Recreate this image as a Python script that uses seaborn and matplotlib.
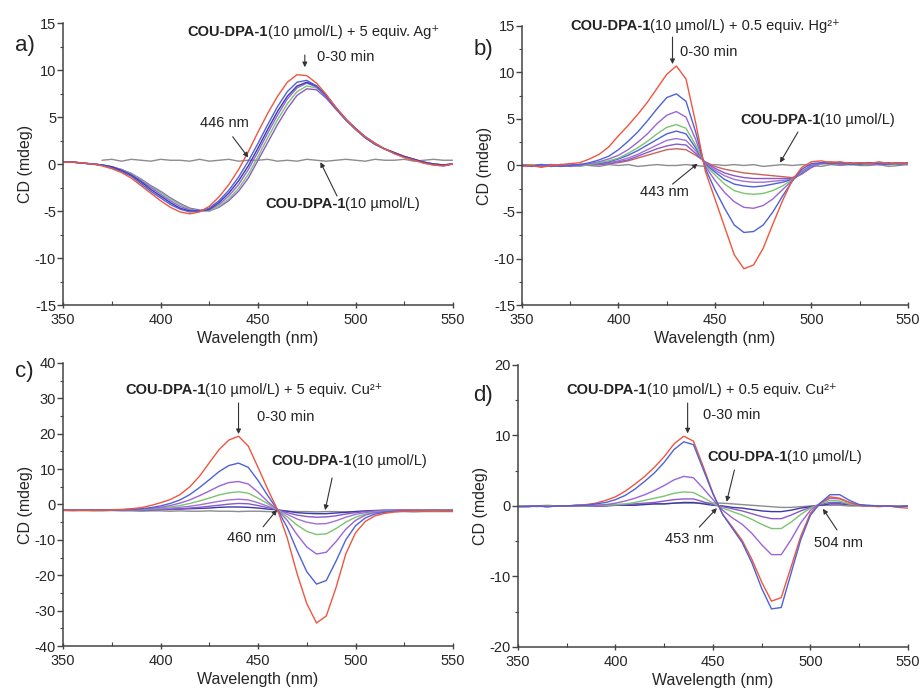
import numpy as np
import pandas as pd
import matplotlib
matplotlib.use("Agg")
import matplotlib.pyplot as plt
from matplotlib.ticker import AutoMinorLocator
import seaborn as sns

# wavelength grid (nm)
wl = list(range(350, 551, 5))

# ---- panel a: + 5 equiv. Ag+ ----
a_ref = [None, None, None, None,
         0.4, 0.5, 0.3, 0.5, 0.4, 0.3, 0.5, 0.4, 0.4, 0.3, 0.5, 0.3, 0.4, 0.5, 0.3, 0.4,
         0.4, 0.5, 0.3, 0.4, 0.3, 0.5, 0.4, 0.3, 0.4, 0.5, 0.4, 0.3, 0.5, 0.4, 0.4, 0.5,
         0.3, 0.4, 0.5, 0.4, 0.4]
a_violet = [0.2, 0.2, 0.1, 0.0, -0.1, -0.3, -0.6, -1.0, -1.6, -2.3, -2.9, -3.6, -4.2, -4.7, -4.9,
            -5.0, -4.6, -3.9, -2.9, -1.5, 0.4, 2.3, 4.2, 5.9, 7.3, 8.0, 7.9, 7.0, 5.8, 4.7,
            3.7, 2.8, 2.1, 1.6, 1.2, 0.8, 0.5, 0.2, 0.0, -0.1, 0.0]
a_green = [0.2, 0.2, 0.1, 0.0, -0.1, -0.3, -0.6, -1.0, -1.7, -2.4, -3.0, -3.7, -4.3, -4.8, -5.0,
           -5.0, -4.5, -3.7, -2.6, -1.1, 0.8, 2.8, 4.7, 6.4, 7.7, 8.3, 8.1, 7.2, 5.9, 4.7,
           3.7, 2.8, 2.1, 1.6, 1.2, 0.8, 0.5, 0.2, 0.0, -0.1, 0.0]
a_purple = [0.2, 0.2, 0.1, 0.0, -0.1, -0.3, -0.6, -1.1, -1.8, -2.5, -3.2, -3.9, -4.5, -4.9, -5.0,
            -4.9, -4.3, -3.4, -2.2, -0.6, 1.3, 3.3, 5.2, 6.9, 8.1, 8.6, 8.2, 7.2, 5.9, 4.7,
            3.7, 2.8, 2.1, 1.6, 1.2, 0.8, 0.5, 0.2, 0.0, -0.1, 0.0]
a_navy = [0.2, 0.2, 0.1, 0.0, -0.1, -0.3, -0.7, -1.2, -1.9, -2.7, -3.4, -4.1, -4.7, -5.0, -5.0,
          -4.8, -4.1, -3.1, -1.8, -0.2, 1.7, 3.7, 5.6, 7.2, 8.3, 8.7, 8.3, 7.3, 6.0, 4.8,
          3.8, 2.9, 2.2, 1.6, 1.2, 0.8, 0.5, 0.2, 0.0, -0.1, 0.0]
a_blue = [0.2, 0.2, 0.1, 0.0, -0.1, -0.4, -0.8, -1.3, -2.1, -2.9, -3.6, -4.3, -4.8, -5.1, -5.0,
          -4.7, -3.9, -2.8, -1.4, 0.3, 2.2, 4.2, 6.1, 7.7, 8.7, 8.9, 8.3, 7.2, 5.9, 4.7,
          3.7, 2.8, 2.1, 1.6, 1.1, 0.7, 0.4, 0.1, -0.1, -0.2, 0.0]
a_red = [0.2, 0.2, 0.1, 0.0, -0.2, -0.5, -0.9, -1.5, -2.3, -3.1, -3.9, -4.6, -5.1, -5.3, -5.1,
         -4.5, -3.5, -2.2, -0.6, 1.3, 3.4, 5.4, 7.2, 8.7, 9.5, 9.4, 8.6, 7.4, 6.0, 4.8,
         3.7, 2.9, 2.2, 1.6, 1.1, 0.7, 0.4, 0.1, -0.1, -0.2, 0.0]

# ---- panel b: + 0.5 equiv. Hg2+ ----
b_ref = [0.0, 0.1, 0.0, -0.1, 0.1, 0.0, 0.1, 0.0, -0.1, 0.1, 0.0, 0.1, -0.1, 0.0, 0.1, 0.0,
         0.0, 0.1, 0.0, -0.1, 0.1, 0.0, 0.1, 0.0, 0.1, -0.1, 0.0, 0.1, 0.0, 0.1, 0.0, -0.1,
         0.1, 0.0, 0.1, 0.0, 0.0, 0.1, -0.1, 0.0, 0.1]
b_brown = [0.0, 0.0, 0.1, -0.1, 0.0, 0.1, 0.0, 0.1, 0.1, 0.2, 0.3, 0.5, 0.8, 1.1, 1.4, 1.7,
           1.8, 1.7, 1.1, 0.4, -0.1, -0.4, -0.6, -0.8, -0.9, -1.0, -1.1, -1.2, -1.3, -0.9,
           -0.2, 0.3, 0.4, 0.3, 0.2, 0.3, 0.2, 0.3, 0.2, 0.2, 0.3]
b_violet = [0.1, 0.0, -0.1, 0.1, 0.0, 0.0, 0.1, 0.1, 0.1, 0.2, 0.4, 0.6, 1.0, 1.4, 1.8, 2.1,
            2.3, 2.2, 1.3, 0.3, -0.3, -0.8, -1.1, -1.3, -1.4, -1.4, -1.4, -1.4, -1.4, -0.9,
            -0.2, 0.2, 0.2, 0.3, 0.2, 0.2, 0.3, 0.1, 0.2, 0.2, 0.3]
b_purple2 = [0.0, -0.1, 0.1, 0.0, 0.0, 0.1, 0.0, 0.1, 0.2, 0.3, 0.5, 0.8, 1.2, 1.7, 2.2, 2.7,
             2.9, 2.7, 1.6, 0.2, -0.5, -1.1, -1.5, -1.7, -1.8, -1.8, -1.7, -1.6, -1.5, -0.9,
             -0.1, 0.2, 0.3, 0.2, 0.2, 0.3, 0.1, 0.2, 0.2, 0.3, 0.2]
b_blue2 = [0.1, 0.0, 0.0, -0.1, 0.1, 0.0, 0.1, 0.1, 0.2, 0.4, 0.7, 1.1, 1.6, 2.2, 2.8, 3.4,
           3.7, 3.4, 1.9, 0.1, -0.7, -1.5, -2.0, -2.2, -2.3, -2.2, -2.0, -1.8, -1.5, -0.8,
           0.0, 0.3, 0.2, 0.2, 0.3, 0.1, 0.2, 0.2, 0.3, 0.1, 0.2]
b_green = [0.0, 0.1, -0.1, 0.0, 0.1, 0.0, -0.1, 0.1, 0.3, 0.5, 0.8, 1.3, 1.9, 2.6, 3.4, 4.1,
           4.4, 4.0, 2.2, 0.0, -1.0, -2.0, -2.7, -3.0, -3.1, -3.0, -2.7, -2.2, -1.5, -0.7,
           0.0, 0.2, 0.2, 0.3, 0.1, 0.2, 0.2, 0.3, 0.1, 0.2, 0.2]
b_purple = [0.1, 0.0, -0.1, 0.1, 0.0, -0.1, 0.0, 0.2, 0.4, 0.7, 1.1, 1.7, 2.5, 3.4, 4.5, 5.4,
            5.8, 5.2, 2.8, -0.1, -1.6, -2.9, -3.9, -4.5, -4.6, -4.3, -3.6, -2.6, -1.6, -0.6,
            0.0, 0.2, 0.3, 0.1, 0.2, 0.3, 0.2, 0.1, 0.2, 0.3, 0.1]
b_blue = [0.0, -0.1, 0.1, 0.0, -0.1, 0.0, 0.1, 0.3, 0.6, 1.0, 1.7, 2.6, 3.6, 4.8, 6.1, 7.3,
          7.7, 6.9, 3.6, -0.3, -2.6, -4.6, -6.4, -7.2, -7.1, -6.4, -5.0, -3.3, -1.7, -0.4,
          0.2, 0.3, 0.2, 0.3, 0.1, 0.2, 0.3, 0.2, 0.1, 0.3, 0.2]
b_red = [-0.1, 0.0, -0.2, 0.0, 0.1, 0.2, 0.3, 0.7, 1.2, 2.0, 3.2, 4.3, 5.5, 6.8, 8.3, 9.8,
         10.7, 9.3, 4.6, -0.6, -3.6, -6.6, -9.6, -11.1, -10.7, -8.9, -6.3, -3.8, -1.6, -0.2,
         0.4, 0.5, 0.3, 0.4, 0.2, 0.3, 0.2, 0.4, 0.2, 0.3, 0.2]

# ---- panel c: + 5 equiv. Cu2+ ----
c_ref = [-1.7, -1.8, -1.7, -1.8, -1.8, -1.7, -1.8, -1.8, -1.9, -1.8, -1.8, -1.9, -1.8, -1.9,
         -1.9, -1.8, -1.9, -1.9, -2.0, -1.9, -1.9, -2.0, -2.0, -1.9, -2.0, -2.0, -2.1, -2.0,
         -2.0, -2.1, -2.0, -2.0, -2.1, -2.0, -2.0, -2.0, -2.1, -2.0, -2.0, -2.0, -2.0]
c_navy = [-1.5, -1.5, -1.6, -1.5, -1.5, -1.5, -1.5, -1.5, -1.5, -1.5, -1.4, -1.4, -1.3, -1.2,
          -1.1, -1.0, -0.8, -0.7, -0.7, -0.8, -1.0, -1.3, -1.5, -1.9, -2.3, -2.5, -2.6, -2.6,
          -2.4, -2.2, -2.0, -1.8, -1.7, -1.6, -1.6, -1.6, -1.6, -1.6, -1.6, -1.6, -1.6]
c_violet = [-1.5, -1.6, -1.5, -1.5, -1.6, -1.5, -1.5, -1.5, -1.5, -1.4, -1.4, -1.3, -1.2, -1.0,
            -0.8, -0.5, -0.2, 0.1, 0.3, 0.2, -0.3, -0.9, -1.5, -2.3, -3.0, -3.4, -3.6, -3.5,
            -3.2, -2.7, -2.3, -2.0, -1.8, -1.7, -1.7, -1.6, -1.6, -1.6, -1.6, -1.6, -1.6]
c_purple2 = [-1.6, -1.5, -1.6, -1.5, -1.5, -1.5, -1.5, -1.5, -1.4, -1.3, -1.2, -1.0, -0.8, -0.5,
             -0.1, 0.4, 0.9, 1.3, 1.5, 1.3, 0.5, -0.5, -1.5, -2.8, -4.1, -5.0, -5.5, -5.4,
             -4.6, -3.6, -2.8, -2.3, -2.0, -1.8, -1.7, -1.7, -1.6, -1.6, -1.6, -1.7, -1.6]
c_green = [-1.6, -1.6, -1.5, -1.6, -1.5, -1.5, -1.5, -1.4, -1.4, -1.2, -1.0, -0.7, -0.3, 0.3,
           1.0, 1.8, 2.7, 3.3, 3.6, 3.2, 1.8, 0.2, -1.5, -3.5, -5.8, -7.6, -8.5, -8.3,
           -6.8, -5.0, -3.6, -2.7, -2.2, -1.9, -1.8, -1.7, -1.7, -1.6, -1.7, -1.6, -1.7]
c_purple = [-1.6, -1.6, -1.6, -1.5, -1.5, -1.5, -1.5, -1.4, -1.3, -1.1, -0.8, -0.3, 0.4, 1.3,
            2.5, 3.8, 5.2, 6.2, 6.5, 5.8, 3.5, 0.8, -1.5, -4.5, -8.5, -12.0, -14.0, -13.5,
            -10.5, -7.0, -4.5, -3.0, -2.3, -2.0, -1.8, -1.7, -1.7, -1.7, -1.6, -1.7, -1.7]
c_blue = [-1.6, -1.6, -1.6, -1.6, -1.5, -1.5, -1.5, -1.4, -1.2, -0.9, -0.4, 0.3, 1.3, 2.8,
          4.8, 7.0, 9.3, 11.0, 11.7, 10.5, 6.8, 2.5, -1.5, -6.5, -13.0, -19.0, -22.5, -21.5,
          -16.0, -10.0, -6.0, -3.8, -2.7, -2.2, -1.9, -1.8, -1.7, -1.7, -1.7, -1.7, -1.7]
c_red = [-1.6, -1.6, -1.7, -1.6, -1.6, -1.5, -1.4, -1.2, -0.9, -0.3, 0.5, 1.4, 2.8, 5.0,
         8.0, 11.8, 15.5, 18.2, 19.3, 16.5, 10.5, 4.3, -1.5, -9.5, -19.5, -28.0, -33.5, -31.5,
         -23.5, -14.0, -8.0, -4.8, -3.2, -2.5, -2.1, -1.9, -1.8, -1.8, -1.7, -1.8, -1.8]

# ---- panel d: + 0.5 equiv. Cu2+ ----
d_ref = [0.0, 0.0, 0.0, 0.1, 0.0, 0.0, 0.1, 0.1, 0.1, 0.1, 0.2, 0.2, 0.2, 0.3, 0.3, 0.3,
         0.4, 0.4, 0.4, 0.4, 0.4, 0.4, 0.3, 0.2, 0.1, 0.0, -0.1, -0.2, -0.2, -0.1, 0.0,
         0.1, 0.1, 0.1, 0.0, 0.0, 0.0, 0.0, 0.0, 0.0, 0.0]
d_navy = [0.0, 0.0, 0.0, 0.0, 0.0, 0.0, 0.0, 0.0, 0.0, 0.0, 0.1, 0.1, 0.1, 0.2, 0.3, 0.3,
          0.4, 0.5, 0.5, 0.3, 0.1, 0.0, -0.2, -0.3, -0.5, -0.7, -0.8, -0.8, -0.6, -0.3,
          -0.1, 0.1, 0.3, 0.3, 0.2, 0.1, 0.0, 0.0, 0.0, 0.0, 0.0]
d_violet = [0.0, 0.0, 0.0, 0.0, 0.0, 0.0, 0.0, 0.0, 0.0, 0.1, 0.1, 0.2, 0.3, 0.4, 0.5, 0.7,
            0.9, 1.0, 1.0, 0.6, 0.2, -0.1, -0.4, -0.7, -1.1, -1.5, -1.8, -1.8, -1.3, -0.7,
            -0.2, 0.2, 0.5, 0.5, 0.2, 0.1, 0.0, 0.0, 0.0, 0.0, 0.0]
d_green = [0.0, 0.0, -0.1, 0.0, 0.0, 0.0, 0.0, 0.0, 0.1, 0.1, 0.2, 0.3, 0.5, 0.8, 1.1, 1.4,
           1.8, 2.0, 1.9, 1.2, 0.4, -0.3, -0.8, -1.3, -1.9, -2.6, -3.2, -3.2, -2.3, -1.2,
           -0.3, 0.3, 0.8, 0.7, 0.3, 0.1, 0.0, 0.0, 0.0, 0.0, 0.0]
d_purple = [-0.1, 0.0, 0.0, -0.1, 0.0, 0.0, 0.0, 0.1, 0.1, 0.2, 0.4, 0.7, 1.1, 1.6, 2.2, 2.9,
            3.7, 4.2, 4.0, 2.5, 0.9, -0.6, -1.7, -2.6, -3.9, -5.5, -6.9, -6.9, -4.8, -2.4,
            -0.6, 0.4, 1.1, 1.0, 0.5, 0.1, 0.0, 0.0, 0.0, -0.1, 0.0]
d_red = [-0.1, -0.1, 0.0, -0.1, 0.0, 0.0, 0.1, 0.2, 0.4, 0.8, 1.3, 2.1, 3.1, 4.2, 5.5, 7.0,
         8.8, 9.9, 9.2, 5.6, 1.8, -1.2, -3.0, -4.9, -7.6, -10.8, -13.5, -13.0, -8.7, -4.3,
         -1.0, 0.4, 1.3, 1.1, 0.5, 0.1, 0.0, -0.1, 0.0, -0.2, -0.3]
d_blue = [-0.1, -0.1, 0.0, -0.1, 0.0, 0.0, 0.1, 0.1, 0.3, 0.5, 0.9, 1.5, 2.4, 3.5, 4.7, 6.2,
          8.0, 9.1, 8.7, 5.2, 1.7, -1.2, -3.2, -5.2, -8.1, -11.7, -14.6, -14.4, -9.6, -4.8,
          -1.3, 0.4, 1.6, 1.6, 0.8, 0.2, 0.1, 0.0, 0.0, -0.1, 0.0]

colors = {
    "ref": "#8c8c8c", "red": "#f0553f", "blue": "#4d62d6", "blue2": "#4d62d6",
    "purple": "#9b64d8", "purple2": "#a070d8", "green": "#7cc46e", "navy": "#3a3aa8",
    "violet": "#8a58c8", "brown": "#c8625a",
}

panels = [
    {"ax": [0.0683, 0.5586, 0.4225, 0.4081], "ylim": (-15, 15), "ystep": 5, "letter": "a)",
     "letter_xy": (25, 45),
     "series": {"ref": a_ref, "violet": a_violet, "green": a_green, "purple": a_purple,
                "navy": a_navy, "blue": a_blue, "red": a_red},
     "title": ((414, 14.0), "(10 µmol/L) + 5 equiv. Ag⁺"),
     "ref_label": ((453.6, -4.3), (490.5, -3.4), (482, 0.2)),
     "time": ((480.3, 11.4), (474, 11.6), (474, 10.3)),
     "iso": [("446 nm", (420.3, 4.4), (437, 2.9), (445, 0.7))]},
    {"ax": [0.5655, 0.5586, 0.4182, 0.4038], "ylim": (-15, 15), "ystep": 5, "letter": "b)",
     "letter_xy": (483, 50),
     "series": {"ref": b_ref, "brown": b_brown, "violet": b_violet, "purple2": b_purple2,
                "blue2": b_blue2, "green": b_green, "purple": b_purple, "blue": b_blue,
                "red": b_red},
     "title": ((374.9, 15.0), "(10 µmol/L) + 0.5 equiv. Hg²⁺"),
     "ref_label": ((463, 4.9), (493, 3.6), (483.7, 0.3)),
     "time": ((431.9, 12.2), (428, 13.8), (428, 10.9)),
     "iso": [("443 nm", (411.1, -2.8), (428, -2.0), (441, 0.2))]},
    {"ax": [0.0683, 0.0651, 0.4225, 0.4096], "ylim": (-40, 40), "ystep": 10, "letter": "c)",
     "letter_xy": (24, 372),
     "series": {"ref": c_ref, "navy": c_navy, "violet": c_violet, "purple2": c_purple2,
                "green": c_green, "purple": c_purple, "blue": c_blue, "red": c_red},
     "title": ((381.8, 32.4), "(10 µmol/L) + 5 equiv. Cu²⁺"),
     "ref_label": ((457, 12.3), (488, 7.5), (484.4, -1.6)),
     "time": ((449.5, 24.7), (440, 28.7), (440, 19.9)),
     "iso": [("460 nm", (434.1, -9.4), (452.6, -6.3), (459.7, -1.5))]},
    {"ax": [0.5612, 0.0637, 0.4225, 0.4081], "ylim": (-20, 20), "ystep": 10, "letter": "d)",
     "letter_xy": (483, 395),
     "series": {"ref": d_ref, "navy": d_navy, "violet": d_violet, "green": d_green,
                "purple": d_purple, "red": d_red, "blue": d_blue},
     "title": ((375, 16.5), "(10 µmol/L) + 0.5 equiv. Cu²⁺"),
     "ref_label": ((447, 6.9), (461, 5.1), (457, 0.6)),
     "time": ((444.9, 12.9), (437, 14.6), (437, 10.3)),
     "iso": [("453 nm", (425.4, -4.7), (443, -3.0), (452, -0.3)),
             ("504 nm", (501.8, -5.3), (513.6, -3.4), (506.4, -0.4))]},
]

sns.set_style("ticks")
plt.rcParams["font.family"] = ["Liberation Sans", "DejaVu Sans"]
plt.rcParams["axes.unicode_minus"] = False

TXT = 10.5
INK = "#222222"
arrow_kw = dict(arrowstyle="-|>", color="#333333", lw=0.8, mutation_scale=7,
                shrinkA=0, shrinkB=0)


def bold_label(ax, xy, rest):
    # bold compound name, then the plain part glued to its right edge
    t = ax.text(xy[0], xy[1], "COU-DPA-1", fontweight="bold", fontsize=TXT,
                va="center", ha="left", color=INK)
    ax.annotate(rest, xy=(1, 0), xycoords=t, va="bottom", ha="left",
                fontsize=TXT, color=INK)


fig = plt.figure(figsize=(9.23, 6.91), dpi=100)

for p in panels:
    ax = fig.add_axes(p["ax"])
    frames = [pd.DataFrame({"wl": wl, "cd": vals, "series": name})
              for name, vals in p["series"].items()]
    df = pd.concat(frames).dropna()
    df["cd"] = df["cd"].astype(float)
    sns.lineplot(data=df, x="wl", y="cd", hue="series",
                 hue_order=list(p["series"].keys()), palette=colors,
                 estimator=None, legend=False, linewidth=1.0, ax=ax)

    lo, hi = p["ylim"]
    ax.set_xlim(350, 550)
    ax.set_ylim(lo, hi)
    ax.set_xticks(range(350, 551, 50))
    ax.set_yticks(np.arange(lo, hi + 1, p["ystep"]))
    ax.xaxis.set_minor_locator(AutoMinorLocator(2))
    ax.yaxis.set_minor_locator(AutoMinorLocator(2))
    ax.tick_params(axis="x", which="major", direction="inout", length=5, width=1,
                   labelsize=TXT, pad=3, color="#444444")
    ax.tick_params(axis="x", which="minor", direction="in", length=3, width=0.8,
                   color="#444444")
    ax.tick_params(axis="y", which="major", direction="out", length=4, width=1,
                   labelsize=TXT, pad=1, color="#444444")
    ax.tick_params(axis="y", which="minor", direction="out", length=2.5, width=0.8,
                   color="#444444")
    sns.despine(ax=ax)
    for side in ("left", "bottom"):
        ax.spines[side].set_color("#444444")
        ax.spines[side].set_linewidth(1.1)
    ax.set_xlabel("Wavelength (nm)", fontsize=11.5, labelpad=3)
    ax.set_ylabel("CD (mdeg)", fontsize=11.5, labelpad=1)

    # annotations
    bold_label(ax, p["title"][0], p["title"][1])
    pos, tail, tip = p["ref_label"]
    bold_label(ax, pos, "(10 µmol/L)")
    ax.annotate("", xy=tip, xytext=tail, arrowprops=arrow_kw)
    pos, tail, tip = p["time"]
    ax.text(pos[0], pos[1], "0-30 min", fontsize=TXT, va="center", ha="left",
            color=INK)
    ax.annotate("", xy=tip, xytext=tail, arrowprops=arrow_kw)
    for label, pos, tail, tip in p["iso"]:
        ax.text(pos[0], pos[1], label, fontsize=TXT, va="center", ha="left",
                color=INK)
        ax.annotate("", xy=tip, xytext=tail, arrowprops=arrow_kw)

    lx, ly = p["letter_xy"]
    fig.text(lx / 923, 1 - ly / 691, p["letter"], fontsize=16, ha="center",
             va="center", color=INK)

fig.savefig("out.png", dpi=100)
